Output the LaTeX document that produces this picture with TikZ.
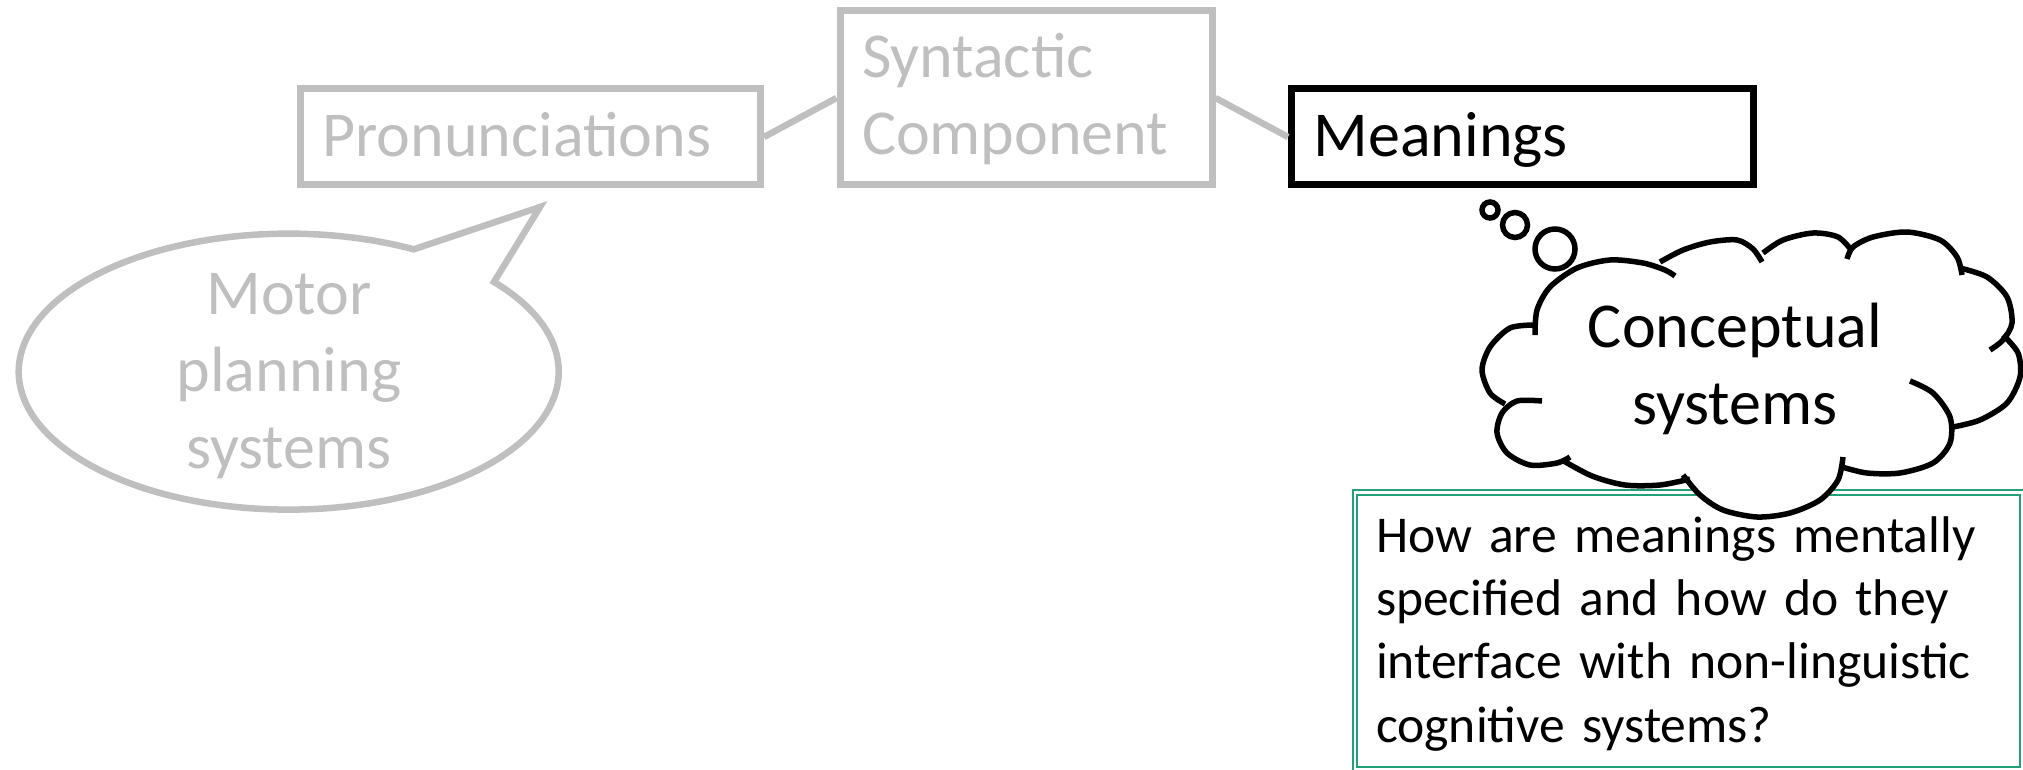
\documentclass[tikz,border=0pt]{standalone}
\usepackage{fontspec}
\setmainfont{Carlito}
\definecolor{softgray}{HTML}{BFBFBF}
\definecolor{qgreen}{RGB}{35,160,120}
\newcommand\bigfnt{\fontsize{64}{77}\selectfont}
\newcommand\qfnt{\fontsize{51.6}{63.3}\selectfont}
\tikzset{
  graybox/.style={draw=softgray, line width=7pt, text=softgray, rectangle, inner xsep=22pt, inner ysep=0pt, align=left, font=\bigfnt},
  blackbox/.style={draw=black, line width=7pt, text=black, rectangle, inner xsep=22pt, inner ysep=0pt, align=left, font=\bigfnt},
  grayline/.style={draw=softgray, line width=6.5pt},
  cloudline/.style={draw=black, line width=5.5pt},
  qbox/.style={draw=qgreen, double=white, double distance=2.2pt, line width=2pt, rectangle, inner xsep=21pt, inner ysep=0pt, align=left, font=\qfnt},
}
\begin{document}
\begin{tikzpicture}[x=1pt, y=-1pt]
\useasboundingbox (0,0) rectangle (2023,770);
\clip (0,0) rectangle (2023,770);

% boxes
\node[graybox, minimum width=460pt, minimum height=96pt, text width=416pt, text height=40pt, text depth=0pt] (pron) at (530.5,137) {Pronunciations};
\node[graybox, minimum width=372pt, minimum height=174pt, text width=328pt, text height=41pt, text depth=81pt] (syn) at (1026,98) {Syntactic\\Component};
\node[blackbox, minimum width=462pt, minimum height=96pt, text width=418pt, text height=40pt, text depth=0pt] (mean) at (1522.5,137) {Meanings};

% connectors
\draw[grayline] (pron.east) -- (syn.west);
\draw[grayline] (syn.east) -- (mean.west);

% speech bubble
\node[text=softgray, font=\bigfnt, align=center, anchor=base, inner sep=0pt] (motor) at (289,468) {Motor\\planning\\systems};
\coordinate (tip) at (540,207);
\draw[grayline, line join=miter] (tip) -- (494,282) arc[start angle=-40.5, end angle=297.6, x radius=270, y radius=138] -- cycle;

% question box
\node[qbox, minimum width=667pt, minimum height=276.5pt, text width=625pt, text height=30pt, text depth=187pt] (q) at (1688.5,630.75)
  {How are meanings mentally\\specified and how do they\\interface with non-linguistic\\cognitive systems?};

% thought cloud
\fill[white] (1537,310) -- (1550,287) -- (1577,268) -- (1610,260) -- (1643,263) -- (1665,268)
  -- (1683,250) -- (1710,242) -- (1737,240) -- (1753,249) -- (1760,255)
  -- (1783,240) -- (1813,233) -- (1838,237) -- (1850,250)
  -- (1873,237) -- (1907,232) -- (1940,240) -- (1958,262)
  -- (1987,277) -- (2007,297) -- (2012,323) -- (2006,336)
  -- (2018,353) -- (2020,377) -- (2007,403) -- (1980,420) -- (1953,427)
  -- (1950,443) -- (1933,463) -- (1900,473) -- (1867,473) -- (1842,467)
  -- (1838,480) -- (1820,500) -- (1790,513) -- (1757,517) -- (1723,510) -- (1700,495) -- (1687,479)
  -- (1660,484) -- (1625,485) -- (1592,476) -- (1562,460)
  -- (1530,465) -- (1507,453) -- (1497,433) -- (1502,413) -- (1506,404)
  -- (1490,393) -- (1482,370) -- (1490,347) -- (1510,328) -- (1537,322) -- cycle;
\draw[cloudline] plot[smooth] coordinates {(1535,335) (1537,310) (1550,287) (1577,268) (1610,260) (1643,263) (1665,270) (1675,276)};
\draw[cloudline] plot[smooth] coordinates {(1660,262) (1683,250) (1710,242) (1737,240) (1753,249) (1762,262)};
\draw[cloudline] plot[smooth] coordinates {(1763,253) (1783,240) (1813,233) (1838,237) (1852,251)};
\draw[cloudline] plot[smooth] coordinates {(1847,259) (1853,247) (1873,237) (1907,232) (1940,240) (1957,257) (1962,275)};
\draw[cloudline] plot[smooth] coordinates {(1960,268) (1987,277) (2007,297) (2012,323) (2003,340) (1990,350)};
\draw[cloudline] plot[smooth] coordinates {(2003,335) (2018,353) (2020,377) (2007,403) (1980,420) (1953,427)};
\draw[cloudline] plot[smooth] coordinates {(1910,381) (1933,393) (1950,417) (1950,443) (1933,463) (1900,473) (1867,473) (1842,467)};
\draw[cloudline] plot[smooth] coordinates {(1843,457) (1838,480) (1820,500) (1790,513) (1757,517) (1723,510) (1700,495) (1683,475)};
\draw[cloudline] plot[smooth] coordinates {(1690,479) (1660,485) (1625,485) (1592,476) (1562,460)};
\draw[cloudline] plot[smooth] coordinates {(1570,457) (1557,463) (1530,465) (1507,453) (1497,433) (1502,413) (1517,401) (1542,401)};
\draw[cloudline] plot[smooth] coordinates {(1505,404) (1490,393) (1482,370) (1490,347) (1510,328) (1535,325)};
\node[font=\bigfnt, align=center, anchor=base, inner sep=0pt] (concept) at (1735,424) {Conceptual\\systems};

% thought bubbles
\node[circle, draw, line width=5.5pt, fill=white, minimum size=16pt, inner sep=0pt] (b1) at (1490,210) {};
\node[circle, draw, line width=5.5pt, fill=white, minimum size=25pt, inner sep=0pt] (b2) at (1515,225) {};
\node[circle, draw, line width=5.5pt, fill=white, minimum size=40pt, inner sep=0pt] (b3) at (1555,249) {};
\end{tikzpicture}
\end{document}
